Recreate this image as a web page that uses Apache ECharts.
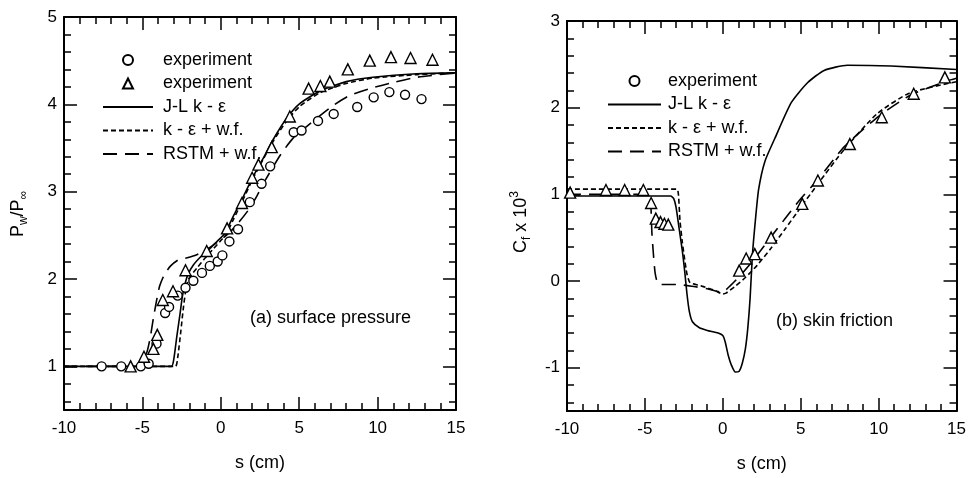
<!DOCTYPE html>
<html>
<head>
<meta charset="utf-8">
<script src="https://cdn.jsdelivr.net/npm/echarts@6.0.0/dist/echarts.min.js"></script>
<style>
  html, body { margin: 0; padding: 0; background: #fff; }
  #chart { width: 969px; height: 478px; }
</style>
</head>
<body>
<div id="chart"></div>
<script>
// tick labels
const sTicks = [-10, -5, 0, 5, 10, 15]
const pressureTicks = [1, 2, 3, 4, 5]
const frictionTicks = [-1, 0, 1, 2, 3]

// (a) surface pressure
const expCircleS = [-7.6, -6.35, -5.1, -4.6, -4.1, -3.55, -3.3, -2.75, -2.25, -1.75, -1.2, -0.7, -0.2, 0.1, 0.55, 1.1, 1.85, 2.6, 3.15, 4.65, 5.15, 6.2, 7.2, 8.7, 9.75, 10.75, 11.75, 12.8]
const expCircleP = [1.0, 1.0, 1.0, 1.03, 1.26, 1.61, 1.68, 1.81, 1.9, 1.98, 2.07, 2.15, 2.2, 2.27, 2.43, 2.57, 2.88, 3.09, 3.29, 3.68, 3.7, 3.81, 3.89, 3.97, 4.08, 4.14, 4.11, 4.06]
const expTriS = [-5.75, -4.9, -4.3, -4.05, -3.7, -3.05, -2.25, -0.9, 0.4, 1.35, 2.0, 2.4, 3.25, 4.4, 5.6, 6.35, 6.95, 8.1, 9.5, 10.85, 12.1, 13.5]
const expTriP = [1.0, 1.11, 1.2, 1.36, 1.76, 1.86, 2.1, 2.32, 2.58, 2.87, 3.16, 3.31, 3.51, 3.86, 4.18, 4.21, 4.26, 4.4, 4.5, 4.54, 4.53, 4.51]
const jlS = [-10, -3.15, -3.0, -2.8, -2.6, -2.45, -2.3, -2.1, -1.75, -1.25, -0.75, -0.25, 0.25, 0.8, 1.45, 2.05, 2.7, 3.35, 4.2, 5.05, 6.3, 8.0, 9.7, 12.5, 15]
const jlP = [1.0, 1.0, 1.08, 1.35, 1.6, 1.8, 1.93, 2.05, 2.16, 2.26, 2.34, 2.43, 2.52, 2.72, 2.95, 3.17, 3.38, 3.6, 3.84, 4.01, 4.15, 4.26, 4.31, 4.35, 4.36]
const keS = [-10, -2.9, -2.75, -2.55, -2.4, -2.25, -2.05, -1.5, -1.0, -0.5, 0.0, 0.3, 0.8, 1.45, 2.05, 2.7, 3.35, 4.2, 5.05, 6.3, 8.0, 9.7, 12.5, 15]
const keP = [1.0, 1.0, 1.1, 1.4, 1.65, 1.85, 2.0, 2.13, 2.24, 2.34, 2.44, 2.5, 2.68, 2.92, 3.15, 3.37, 3.58, 3.81, 3.98, 4.13, 4.24, 4.3, 4.34, 4.36]
const rsS = [-10, -5.4, -5.0, -4.7, -4.5, -4.3, -4.1, -3.9, -3.6, -3.2, -2.7, -2.2, -1.5, -0.8, 0.0, 0.6, 1.2, 1.8, 2.3, 2.8, 3.8, 4.6, 5.7, 7.2, 8.2, 9.5, 11, 12.5, 15]
const rsP = [1.0, 1.0, 1.05, 1.17, 1.33, 1.55, 1.75, 1.92, 2.05, 2.15, 2.22, 2.24, 2.28, 2.35, 2.45, 2.54, 2.66, 2.8, 2.95, 3.12, 3.42, 3.61, 3.78, 3.99, 4.1, 4.18, 4.25, 4.31, 4.36]

// (b) skin friction
const cfExpS = [-9.8, -7.5, -6.3, -5.1, -4.6, -4.3, -4.0, -3.75, -3.5, 1.05, 1.5, 2.05, 3.1, 5.1, 6.1, 8.15, 10.2, 12.25, 14.25]
const cfExpC = [1.02, 1.05, 1.05, 1.05, 0.9, 0.72, 0.68, 0.66, 0.65, 0.12, 0.26, 0.31, 0.5, 0.89, 1.16, 1.58, 1.89, 2.16, 2.35]
const cfJlS = [-10, -3.35, -3.15, -3.0, -2.8, -2.6, -2.45, -2.3, -2.15, -1.95, -1.5, -1.0, -0.3, 0.0, 0.15, 0.35, 0.55, 0.8, 1.05, 1.25, 1.45, 1.6, 1.75, 1.9, 2.1, 2.3, 2.7, 3.35, 4.4, 5.45, 6.5, 8.0, 10.8, 15]
const cfJlC = [0.98, 0.98, 0.95, 0.85, 0.6, 0.35, 0.12, -0.15, -0.35, -0.47, -0.54, -0.57, -0.6, -0.63, -0.7, -0.86, -0.97, -1.05, -1.04, -0.95, -0.78, -0.55, -0.2, 0.3, 0.72, 1.06, 1.38, 1.65, 2.06, 2.29, 2.43, 2.49, 2.48, 2.44]
const cfKeS = [-10, -2.95, -2.85, -2.75, -2.6, -2.45, -2.3, -2.1, -1.5, -1.0, -0.5, 0.0, 0.2, 0.8, 1.45, 2.2, 3.1, 4.0, 4.8, 6.1, 7.8, 9.9, 12, 15]
const cfKeC = [1.06, 1.06, 1.0, 0.7, 0.45, 0.25, 0.08, -0.02, -0.05, -0.08, -0.11, -0.15, -0.14, -0.06, 0.04, 0.18, 0.38, 0.6, 0.8, 1.12, 1.52, 1.93, 2.17, 2.3]
const cfRsS = [-10, -4.75, -4.65, -4.6, -4.55, -4.45, -4.35, -4.2, -4.0, -3.0, -2.0, -1.0, -0.05, 0.5, 1.2, 2.0, 3.05, 4.0, 5.0, 6.1, 7.8, 10, 12, 14.4, 15]
const cfRsC = [1.0, 1.0, 0.95, 0.8, 0.55, 0.3, 0.1, -0.02, -0.04, -0.04, -0.06, -0.09, -0.13, -0.05, 0.08, 0.25, 0.5, 0.72, 0.95, 1.17, 1.55, 1.9, 2.14, 2.31, 2.34]

const FONT = "'Liberation Sans', Arial, sans-serif"
const pairs = (xs, ys) => xs.map((x, i) => [x, ys[i]])
const steps = (from, to, step) => {
  const out = []
  for (let v = from; v <= to + 1e-9; v += step) out.push(Math.round(v * 10) / 10)
  return out
}

const tickLine = {color: '#000', width: 1.5}

// four axes per side pair: main (labels + long ticks), minor ticks, mirrored long, mirrored minor
const makeAxes = (dim, gridIndex, min, max, majors, minors, extra) => {
  const sides = dim === 'x' ? ['bottom', 'top'] : ['left', 'right']
  const base = {type: 'value', gridIndex, min, max, splitLine: {show: false}}
  const line = {show: true, onZero: false, lineStyle: {color: '#000', width: 2}}
  const noLine = {show: false, onZero: false}
  const major = {show: true, inside: true, length: 13, customValues: majors, lineStyle: tickLine}
  const minor = {show: true, inside: true, length: 7, customValues: minors, lineStyle: tickLine}
  return [
    Object.assign({}, base, {
      position: sides[0],
      axisLine: line,
      axisTick: major,
      axisLabel: {customValues: majors, margin: dim === 'x' ? 10 : 7, fontSize: 17, color: '#000', fontFamily: FONT}
    }, extra),
    Object.assign({}, base, {position: sides[0], axisLine: noLine, axisTick: minor, axisLabel: {show: false}}),
    Object.assign({}, base, {position: sides[1], axisLine: line, axisTick: major, axisLabel: {show: false}}),
    Object.assign({}, base, {position: sides[1], axisLine: noLine, axisTick: minor, axisLabel: {show: false}})
  ]
}

const xName = {
  name: 's (cm)',
  nameLocation: 'middle',
  nameGap: 44,
  nameTextStyle: {fontSize: 18, color: '#000', fontFamily: FONT}
}

const xAxes = [
  ...makeAxes('x', 0, -10, 15, sTicks, steps(-9, 14, 1), xName),
  ...makeAxes('x', 1, -10, 15, sTicks, steps(-9, 14, 1), xName)
]
const yAxes = [
  ...makeAxes('y', 0, 0.5, 5, pressureTicks, steps(0.6, 4.8, 0.2), {}),
  ...makeAxes('y', 1, -1.5, 3, frictionTicks, steps(-1.4, 2.8, 0.2), {})
]

// rotated y titles with sub/superscripts
const yRich = {
  m: {fontSize: 18, lineHeight: 24, fill: '#000', fontFamily: FONT},
  s: {fontSize: 12, lineHeight: 12, verticalAlign: 'bottom', fill: '#000', fontFamily: FONT},
  p: {fontSize: 12, lineHeight: 12, verticalAlign: 'top', fill: '#000', fontFamily: FONT}
}
const yTitle = (x, y, text) => ({
  type: 'text',
  x,
  y,
  rotation: Math.PI / 2,
  style: {text, rich: yRich, align: 'center', verticalAlign: 'middle', fill: '#000', fontFamily: FONT}
})

const labels = {
  a1: 'experiment', a2: 'experiment', a3: 'J-L k - ε', a4: 'k - ε + w.f.', a5: 'RSTM + w.f.',
  b1: 'experiment', b3: 'J-L k - ε', b4: 'k - ε + w.f.', b5: 'RSTM + w.f.'
}

const lineSeries = (name, grid, data, type) => ({
  type: 'line',
  name,
  xAxisIndex: grid * 4,
  yAxisIndex: grid * 4,
  data,
  symbol: 'none',
  smooth: 0.2,
  lineStyle: {color: '#000', width: 1.6, type}
})
const pointSeries = (name, grid, data, symbol, size) => ({
  type: 'scatter',
  name,
  xAxisIndex: grid * 4,
  yAxisIndex: grid * 4,
  data,
  symbol,
  symbolSize: size,
  z: 5,
  itemStyle: {color: '#fff', borderColor: '#000', borderWidth: 1.4, opacity: 1}
})

const triIcon = 'path://M0,10L5,0L10,10Z'
const noDot = {opacity: 0}
const legendBase = {
  orient: 'vertical',
  itemHeight: 10,
  itemGap: 5.5,
  formatter: (name) => labels[name],
  textStyle: {fontSize: 18, color: '#000', fontFamily: FONT, padding: [0, 0, 0, 5]}
}

const chart = echarts.init(document.getElementById('chart'))
chart.setOption({
  animation: false,
  backgroundColor: '#fff',
  grid: [
    {left: 64, right: 513, top: 17, bottom: 68},
    {left: 567, right: 9, top: 21, bottom: 65}
  ],
  xAxis: xAxes,
  yAxis: yAxes,
  legend: [
    Object.assign({}, legendBase, {
      left: 97, top: 46, itemWidth: 50,
      data: [
        {name: 'a1', icon: 'circle'},
        {name: 'a2', icon: triIcon},
        {name: 'a3', itemStyle: noDot},
        {name: 'a4', itemStyle: noDot},
        {name: 'a5', itemStyle: noDot}
      ]
    }),
    Object.assign({}, legendBase, {
      left: 602, top: 67, itemWidth: 53,
      textStyle: Object.assign({}, legendBase.textStyle, {padding: [0, 0, 0, 2]}),
      data: [
        {name: 'b1', icon: 'circle'},
        {name: 'b3', itemStyle: noDot},
        {name: 'b4', itemStyle: noDot},
        {name: 'b5', itemStyle: noDot}
      ]
    })
  ],
  graphic: [
    yTitle(18, 214, '{m|P}{s|w}{m|/P}{s|∞}'),
    yTitle(521, 222, '{m|C}{s|f}{m| x 10}{p|3}'),
    {type: 'text', left: 250, top: 309, style: {text: '(a) surface pressure', fontSize: 18, fill: '#000', fontFamily: FONT}},
    {type: 'text', left: 776, top: 312, style: {text: '(b) skin friction', fontSize: 18, fill: '#000', fontFamily: FONT}}
  ],
  series: [
    lineSeries('a3', 0, pairs(jlS, jlP), 'solid'),
    lineSeries('a4', 0, pairs(keS, keP), [5, 3]),
    lineSeries('a5', 0, pairs(rsS, rsP), [14, 8]),
    pointSeries('a1', 0, pairs(expCircleS, expCircleP), 'circle', 9),
    pointSeries('a2', 0, pairs(expTriS, expTriP), 'triangle', 11),
    lineSeries('b3', 1, pairs(cfJlS, cfJlC), 'solid'),
    lineSeries('b4', 1, pairs(cfKeS, cfKeC), [5, 3]),
    lineSeries('b5', 1, pairs(cfRsS, cfRsC), [14, 8]),
    pointSeries('b1', 1, pairs(cfExpS, cfExpC), 'triangle', 11)
  ]
})
</script>
</body>
</html>
